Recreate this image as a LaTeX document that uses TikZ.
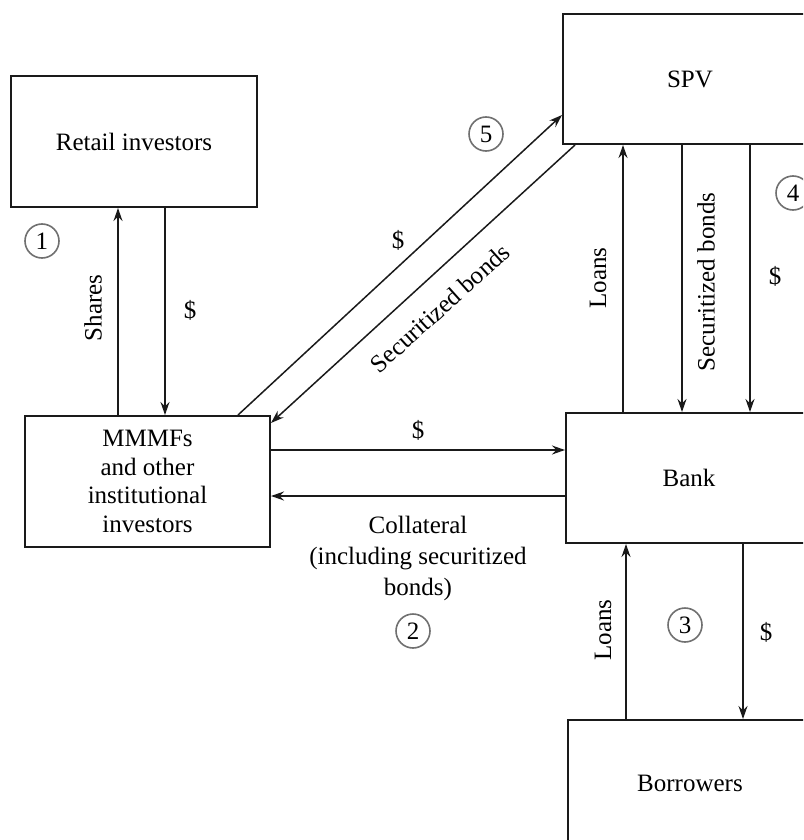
\documentclass[tikz,border=0pt]{standalone}
\usepackage{fontspec}
\setmainfont{Liberation Serif}
\usetikzlibrary{arrows.meta}
\definecolor{FlowLine}{HTML}{1A1A1A}
\definecolor{StepRing}{HTML}{707070}

\begin{document}
\begin{tikzpicture}[x=0.5pt,y=-0.5pt,
    every node/.style={font=\fontsize{12.5}{14.2}\selectfont},
    box/.style={draw=FlowLine,line width=1pt,minimum width=123pt,minimum height=65.5pt,align=center,inner sep=0pt},
    flow/.style={draw=FlowLine,line width=0.75pt,-{Stealth[length=6.5pt,width=4.5pt]}},
    stepno/.style={circle,draw=StepRing,line width=0.8pt,minimum size=17pt,inner sep=0pt}]
  \useasboundingbox (0,0) rectangle (803,840);
  \clip (0,0) rectangle (803,840);

  % the five parties
  \node[box] (retail) at (134,141.5) {Retail investors};
  \node[box,minimum width=122.5pt] (mmmf) at (147.5,481.5) {MMMFs\\and other\\institutional\\investors};
  \node[box,minimum width=127pt,minimum height=65pt] (spv) at (690,79) {SPV};
  \node[box,minimum height=65pt] (bank) at (689,478) {Bank};
  \node[box,minimum width=122pt,minimum height=63pt] (borr) at (690,783) {Borrowers};

  % retail <-> MMMFs
  \draw[flow] (mmmf.north -| 118,0) -- (retail.south -| 118,0);
  \draw[flow] (retail.south -| 165,0) -- (mmmf.north -| 165,0);
  \node[rotate=90] (sharesL) at (93,308) {Shares};
  \node (dollarA) at (190,310) {\$};
  \node[stepno] (one) at (42,241) {1};

  % MMMFs <-> SPV
  \draw[flow] (mmmf.north -| 238,0) -- (spv.west |- 0,115);
  \draw[flow] (spv.south -| 575,0) -- (mmmf.east |- 0,423);
  \node (dollarB) at (398,240) {\$};
  \node[rotate=42] (secbondsA) at (440,308) {Securitized bonds};
  \node[stepno] (five) at (486,134) {5};

  % MMMFs <-> bank
  \draw[flow] (mmmf.east |- 0,450) -- (bank.west |- 0,450);
  \draw[flow] (bank.west |- 0,496) -- (mmmf.east |- 0,496);
  \node (dollarC) at (418,430) {\$};
  \node[align=center,font=\fontsize{12.5}{15.5}\selectfont] (collat) at (418,558) {Collateral\\(including securitized\\bonds)};
  \node[stepno] (two) at (413,631) {2};

  % bank <-> SPV
  \draw[flow] (bank.north -| 623,0) -- (spv.south -| 623,0);
  \draw[flow] (spv.south -| 682,0) -- (bank.north -| 682,0);
  \draw[flow] (spv.south -| 750,0) -- (bank.north -| 750,0);
  \node[rotate=90] (loansA) at (598,278) {Loans};
  \node[rotate=90] (secbondsB) at (706,282) {Securitized bonds};
  \node (dollarD) at (775,276) {\$};
  \node[stepno] (four) at (793,193) {4};

  % bank <-> borrowers
  \draw[flow] (borr.north -| 626,0) -- (bank.south -| 626,0);
  \draw[flow] (bank.south -| 743,0) -- (borr.north -| 743,0);
  \node[rotate=90] (loansB) at (603,630) {Loans};
  \node (dollarE) at (766,632) {\$};
  \node[stepno] (three) at (685,625) {3};
\end{tikzpicture}
\end{document}
